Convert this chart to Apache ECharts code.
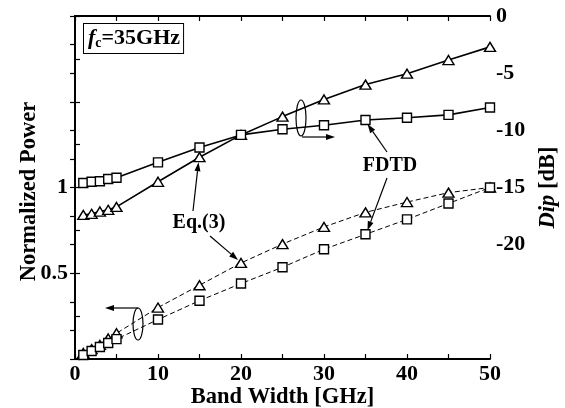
<!DOCTYPE html>
<html>
<head>
<meta charset="utf-8">
<script src="https://cdn.jsdelivr.net/npm/echarts@6/dist/echarts.min.js"></script>
<style>
  html, body { margin: 0; padding: 0; background: #fff; }
  #chart { width: 565px; height: 408px; }
</style>
</head>
<body>
<div id="chart"></div>
<script>
// band width [GHz]
const bandWidth = [1, 2, 3, 4, 5, 10, 15, 20, 25, 30, 35, 40, 45, 50]
// Dip [dB] (right axis, solid lines)
const dipEq3 = [-17.4, -17.3, -17.1, -16.95, -16.7, -14.5, -12.35, -10.4, -8.8, -7.3, -6.0, -5.05, -3.85, -2.7]
const dipFdtd = [-14.6, -14.5, -14.45, -14.25, -14.15, -12.8, -11.5, -10.4, -9.9, -9.55, -9.1, -8.9, -8.65, -8.0]
// normalized power (left axis, dashed lines)
const powEq3 = [0.035, 0.058, 0.082, 0.12, 0.15, 0.30, 0.43, 0.56, 0.67, 0.77, 0.855, 0.915, 0.97, 1.0]
const powFdtd = [0.023, 0.047, 0.07, 0.093, 0.116, 0.23, 0.34, 0.44, 0.535, 0.64, 0.727, 0.814, 0.907, 1.0]

const leftLabels = [0.5, 1]
const rightLabels = [0, -5, -10, -15, -20]

const font = 'Liberation Serif'
const pairs = (ys) => bandWidth.map((x, i) => [x, ys[i]])

const chart = echarts.init(document.getElementById('chart'))

const axisCommon = {
  type: 'value',
  nameMoveOverlap: false,
  axisLine: { show: true, lineStyle: { color: '#000', width: 1.8 } },
  axisTick: { show: true, inside: true, length: 5, lineStyle: { color: '#000', width: 1.2 } },
  splitLine: { show: false },
  axisLabel: { color: '#000', fontFamily: font, fontWeight: 'bold', fontSize: 22 },
  nameTextStyle: { color: '#000', fontFamily: font, fontWeight: 'bold', fontSize: 22.5 }
}

const seriesStyle = (name, data, yIdx, symbol, dashed) => ({
  name: name,
  type: 'line',
  yAxisIndex: yIdx,
  data: pairs(data),
  symbol: symbol,
  symbolSize: symbol === 'triangle' ? [11, 9] : 9,
  showAllSymbol: true,
  lineStyle: { color: '#000', width: dashed ? 1 : 1.6, type: dashed ? [5, 3] : 'solid' },
  itemStyle: { color: '#fff', borderColor: '#000', borderWidth: 1.4 },
  z: 3,
  animation: false
})

const option = {
  animation: false,
  grid: { left: 75, right: 75, top: 16, bottom: 49, containLabel: false, outerBoundsMode: 'none' },
  xAxis: [
    Object.assign({}, axisCommon, {
      position: 'bottom', min: 0, max: 50, interval: 5,
      name: 'Band Width [GHz]', nameLocation: 'middle', nameGap: 27,
      axisLabel: Object.assign({}, axisCommon.axisLabel, {
        margin: 4,
        formatter: (v) => (v % 10 === 0 ? String(v) : '')
      })
    }),
    Object.assign({}, axisCommon, {
      position: 'top', min: 0, max: 50, interval: 5,
      axisLabel: { show: false }
    })
  ],
  yAxis: [
    Object.assign({}, axisCommon, {
      position: 'left', min: 0, max: 2, interval: 0.25,
      name: 'Normalized Power', nameLocation: 'middle', nameGap: 34,
      nameTextStyle: Object.assign({}, axisCommon.nameTextStyle, { padding: [0, 8, 0, 0] }),
      axisLabel: Object.assign({}, axisCommon.axisLabel, {
        margin: 7,
        formatter: (v) => (leftLabels.indexOf(v) >= 0 ? String(v) : '')
      })
    }),
    Object.assign({}, axisCommon, {
      position: 'right', min: -30, max: 0, interval: 2.5,
      name: '{i|Dip} [dB]', nameLocation: 'middle', nameGap: 47,
      nameTextStyle: Object.assign({}, axisCommon.nameTextStyle, {
        rich: { i: { fontFamily: font, fontWeight: 'bold', fontStyle: 'italic', fontSize: 22.5, color: '#000' } }
      }),
      axisLabel: Object.assign({}, axisCommon.axisLabel, {
        margin: 6,
        formatter: (v) => (rightLabels.indexOf(v) >= 0 ? String(v) : '')
      })
    })
  ],
  series: [
    seriesStyle('Dip Eq.(3)', dipEq3, 1, 'triangle', false),
    seriesStyle('Dip FDTD', dipFdtd, 1, 'rect', false),
    seriesStyle('Power Eq.(3)', powEq3, 0, 'triangle', true),
    seriesStyle('Power FDTD', powFdtd, 0, 'rect', true)
  ]
}

chart.setOption(option)

// annotations
const px = (yIdx, x, y) => chart.convertToPixel({ xAxisIndex: 0, yAxisIndex: yIdx }, [x, y])

function arrow(x1, y1, x2, y2) {
  const a = Math.atan2(y2 - y1, x2 - x1)
  const len = 9, w = 3
  const bx = x2 - len * Math.cos(a), by = y2 - len * Math.sin(a)
  return [
    { type: 'line', shape: { x1: x1, y1: y1, x2: bx, y2: by }, style: { stroke: '#000', lineWidth: 1.2 }, z: 10 },
    {
      type: 'polygon',
      shape: { points: [[x2, y2], [bx + w * Math.sin(a), by - w * Math.cos(a)], [bx - w * Math.sin(a), by + w * Math.cos(a)]] },
      style: { fill: '#000' }, z: 10
    }
  ]
}

const labelStyle = { fontFamily: font, fontWeight: 'bold', fontSize: 20, fill: '#000' }

const pTri15 = px(1, 15, dipEq3[6])
const pTri20 = px(0, 20, powEq3[7])
const pSq35 = px(1, 35, dipFdtd[10])
const pSq35b = px(0, 35, powFdtd[10])

let gfx = [
  {
    type: 'text', left: 83, top: 23, z: 20,
    style: {
      text: '{i|f}{s|c}{n|=35GHz}',
      backgroundColor: '#fff', borderColor: '#000', borderWidth: 1, padding: [3, 3, 3, 4],
      rich: {
        i: { fontFamily: font, fontStyle: 'italic', fontWeight: 'bold', fontSize: 22 },
        s: { fontFamily: font, fontWeight: 'bold', fontSize: 14, padding: [9, 0, 0, 0] },
        n: { fontFamily: font, fontWeight: 'bold', fontSize: 22 }
      }
    }
  },
  { type: 'text', x: 199, y: 223, style: Object.assign({ text: 'Eq.(3)', align: 'center', verticalAlign: 'middle' }, labelStyle), z: 10 },
  { type: 'text', x: 390, y: 166, style: Object.assign({ text: 'FDTD', align: 'center', verticalAlign: 'middle' }, labelStyle), z: 10 },
  { type: 'ellipse', shape: { cx: 301, cy: 118, rx: 5, ry: 18 }, style: { fill: 'none', stroke: '#000', lineWidth: 1.2 }, z: 10 },
  { type: 'ellipse', shape: { cx: 138, cy: 324, rx: 5, ry: 16 }, style: { fill: 'none', stroke: '#000', lineWidth: 1.2 }, z: 10 }
]
gfx = gfx.concat(
  arrow(193, 211, pTri15[0] - 1, pTri15[1] + 5),
  arrow(210, 236, pTri20[0] - 3, pTri20[1] - 3),
  arrow(387, 152, pSq35[0] + 2, pSq35[1] + 4),
  arrow(387, 178, pSq35b[0] + 2, pSq35b[1] - 4),
  arrow(302, 137, 335, 137),
  arrow(138, 308, 105, 308)
)

chart.setOption({ graphic: gfx })
</script>
</body>
</html>
